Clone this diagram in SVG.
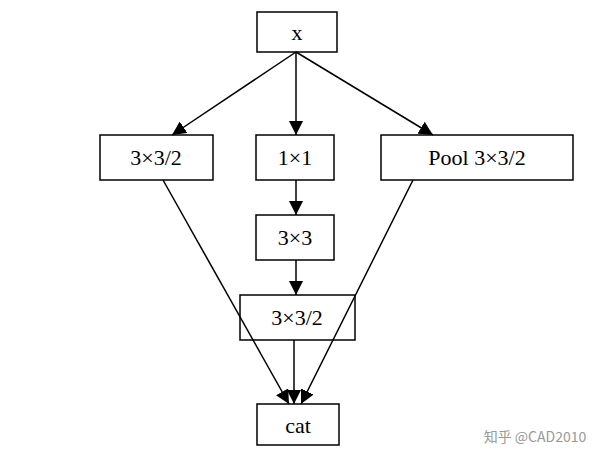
<svg xmlns="http://www.w3.org/2000/svg" width="600" height="463" viewBox="0 0 600 463">
<style>
rect{fill:#fff;stroke:#000;stroke-width:1.5}
text{font-family:"Liberation Serif",serif;font-size:22px;text-anchor:middle;fill:#000}
line{stroke:#000;stroke-width:1.5}
</style>
<defs>
<marker id="b" viewBox="0 0 14 14" refX="14" refY="7" markerWidth="14" markerHeight="14" markerUnits="userSpaceOnUse" orient="auto"><path d="M0,0L14,7L0,14z" fill="#000"/></marker></defs>
<rect width="600" height="463" style="stroke:none"/>
<g id="x"><rect x="257" y="12" width="80" height="40"/><text x="297" y="40">x</text></g>
<g id="l"><rect x="100" y="135" width="113" height="45"/><text x="156" y="165">3×3/2</text></g>
<g id="m1"><rect x="256" y="135" width="78" height="45"/><text x="295" y="165">1×1</text></g>
<g id="p"><rect x="381" y="135" width="192" height="45"/><text x="477" y="165">Pool 3×3/2</text></g>
<g id="m2"><rect x="256" y="215" width="78" height="45"/><text x="295" y="245">3×3</text></g>
<g id="m3"><rect x="240" y="295" width="115" height="45" style="fill:none"/><text x="297" y="325">3×3/2</text></g>
<g id="cat"><rect x="257" y="404" width="82" height="41"/><text x="298" y="433">cat</text></g>
<g id="connectors">
<line x1="296" y1="52" x2="172" y2="135" marker-end="url(#b)"/>
<line x1="296" y1="52" x2="296" y2="135" marker-end="url(#b)"/>
<line x1="296" y1="52" x2="433" y2="135" marker-end="url(#b)"/>
<line x1="296" y1="180" x2="296" y2="215" marker-end="url(#b)"/>
<line x1="296" y1="260" x2="296" y2="295" marker-end="url(#b)"/>
<line x1="163" y1="180" x2="289" y2="404" marker-end="url(#b)"/>
<line x1="413" y1="180" x2="301" y2="404" marker-end="url(#b)"/>
<line x1="294" y1="340" x2="294" y2="404" marker-end="url(#b)"/>
</g>
<text x="535" y="442" style="font-family:'Noto Sans CJK SC',sans-serif;font-size:14px;fill:#999">知乎 @CAD2010</text>
</svg>
